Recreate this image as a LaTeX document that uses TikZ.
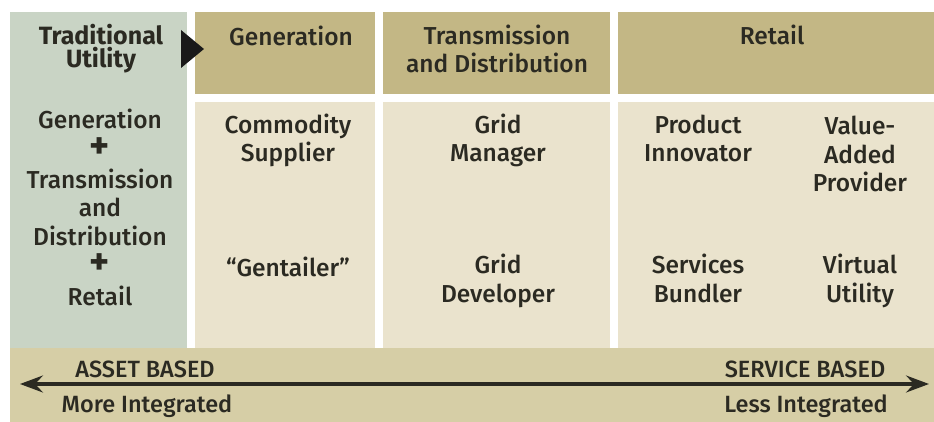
\documentclass[tikz,border=0pt]{standalone}
\usepackage{fontspec}
\setmainfont{Fira Sans}[UprightFont=* Medium, BoldFont=* Bold]
\usepackage{xcolor}
\usepackage{tikz}
\usetikzlibrary{arrows.meta}

\definecolor{sage}{HTML}{C9D4C5}
\definecolor{khaki}{HTML}{C3B785}
\definecolor{cream}{HTML}{EAE3CD}
\definecolor{band}{HTML}{D6CEA6}
\definecolor{ink}{HTML}{2B2A22}

\begin{document}
\begin{tikzpicture}[x=1pt, y=-1pt,
        txt/.style={font=\fontsize{24.5}{28.5}\selectfont, text=ink, align=center, anchor=base, inner sep=0pt},
        head/.style={txt, font=\bfseries\fontsize{25}{23.5}\selectfont},
        scale txt/.style={txt, font=\fontsize{23.5}{28}\selectfont},
        plus/.style={text=ink, font=\bfseries\fontsize{38}{38}\selectfont, inner sep=0pt,
            anchor=base, text height=19pt, text depth=0pt},
        >={Stealth[length=23pt, width=17pt, inset=8pt]}]
        \useasboundingbox[fill=white] (0, 0) rectangle (934, 422);

        % panels
        \fill[sage] (10, 12) rectangle (187, 348);
        \fill[khaki] (195, 12) rectangle (375, 94);
        \fill[khaki] (383, 12) rectangle (610, 94);
        \fill[khaki] (618, 12) rectangle (934, 94);
        \fill[cream] (195, 102) rectangle (375, 348);
        \fill[cream] (383, 102) rectangle (610, 348);
        \fill[cream] (618, 102) rectangle (934, 348);
        \fill[band] (10, 348) rectangle (934, 422);
        \fill[black!90] (181, 30) -- (204, 49) -- (181, 68) -- cycle;

        % left column (anchor = baseline of last line)
        \node[head] (trad) at (101, 68) {Traditional\\Utility};
        \node[txt] (gen) at (100, 129) {Generation};
        \node[plus] (plusa) at (100, 159) {+};
        \node[txt] (td) at (100, 245) {Transmission\\and\\Distribution};
        \node[plus] (plusb) at (100, 274) {+};
        \node[txt] (ret) at (100, 305) {Retail};

        % headers
        \node[txt] (hgen) at (291, 46) {Generation};
        \node[txt] (htd) at (497, 73) {Transmission\\and Distribution};
        \node[txt] (hret) at (772, 45) {Retail};

        % roles
        \node[txt] (comm) at (288, 162) {Commodity\\Supplier};
        \node[txt] (gent) at (288, 276) {“Gentailer”};
        \node[txt] (gman) at (498, 162) {Grid\\Manager};
        \node[txt] (gdev) at (498, 302) {Grid\\Developer};
        \node[txt] (prod) at (698, 162) {Product\\Innovator};
        \node[txt] (vap) at (860, 192) {Value-\\Added\\Provider};
        \node[txt] (serv) at (698, 302) {Services\\Bundler};
        \node[txt] (virt) at (860, 302) {Virtual\\Utility};

        % scale
        \coordinate (lend) at (20, 384);
        \coordinate (rend) at (929, 384);
        \draw[ink, line width=3.2pt, <->] (lend) -- (rend);
        \node[scale txt] (asset) at (145, 377) {ASSET BASED};
        \node[scale txt] (more) at (147, 412) {More Integrated};
        \node[scale txt] (serb) at (805, 377) {SERVICE BASED};
        \node[scale txt] (less) at (806, 412) {Less Integrated};
    \end{tikzpicture}
\end{document}
